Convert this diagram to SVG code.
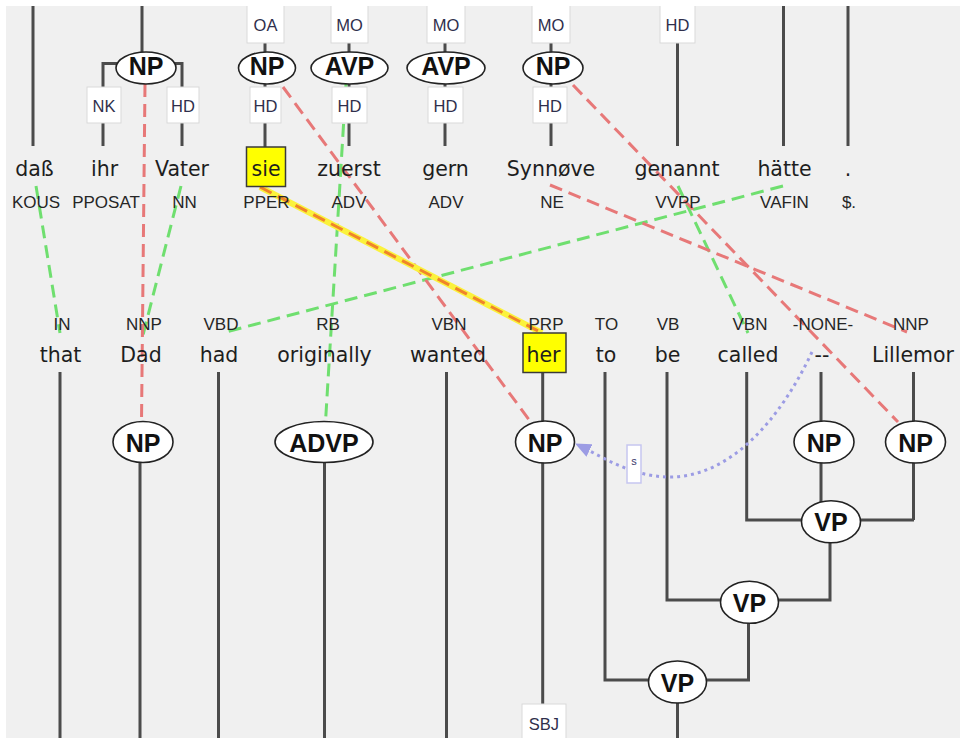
<svg xmlns="http://www.w3.org/2000/svg" width="960" height="738" viewBox="0 0 960 738">
  <style>
    .tree { stroke: #4b4b4b; stroke-width: 3; fill: none; }
    .node ellipse { fill: #ffffff; stroke: #222222; stroke-width: 1.6; }
    .node text { font-family: "Liberation Sans", Arial, sans-serif; font-weight: bold; font-size: 25px; fill: #111111; text-anchor: middle; }
    .lbl rect { fill: #ffffff; stroke: #d9d9d9; stroke-width: 1; }
    .lbl text { font-family: "Liberation Sans", Arial, sans-serif; font-size: 16.5px; fill: #2f2f4c; text-anchor: middle; }
    .word text { font-family: "DejaVu Sans", Verdana, sans-serif; font-size: 20.5px; fill: #1e1e1e; text-anchor: middle; }
    .word .pos { font-family: "Liberation Sans", Arial, sans-serif; font-size: 17px; fill: #262626; }
    .hl { fill: #ffff00; stroke: #3a3a3a; stroke-width: 1.5; }
    .al { fill: none; stroke-width: 3; stroke-dasharray: 13 7; }
    .red { stroke: #e77878; }
    .green { stroke: #6fdf6f; }
    .sel-under { fill: none; stroke: #fbf23c; stroke-width: 6; }
    .sel-over { fill: none; stroke: #f0842a; stroke-width: 3; stroke-dasharray: 13 7; }
    .coref { fill: none; stroke: #9c9ce4; stroke-width: 3; stroke-dasharray: 3 4; }
  </style>
  <defs>
    <marker id="corefHead" markerUnits="userSpaceOnUse" markerWidth="16" markerHeight="14" refX="15" refY="7" orient="auto">
      <path d="M0,0 L16,7 L0,14 Z" fill="#9c9ce4"/>
    </marker>
  </defs>

  <!-- canvas -->
  <rect x="0" y="0" width="960" height="738" fill="#f0f0f0"/>

  <!-- tree edges -->
  <g id="connectors">
    <!-- German tree (top) -->
    <path class="tree" d="M33,0 V146"/>
    <path class="tree" d="M142,0 V52"/>
    <path class="tree" d="M118,63.5 H103 V146"/>
    <path class="tree" d="M174,63.5 H182 V146"/>
    <path class="tree" d="M265,40 V147"/>
    <path class="tree" d="M349,40 V146"/>
    <path class="tree" d="M445,40 V146"/>
    <path class="tree" d="M551,40 V146"/>
    <path class="tree" d="M677.5,0 V146"/>
    <path class="tree" d="M783.5,0 V146"/>
    <path class="tree" d="M848,0 V146"/>

    <!-- English tree (bottom) -->
    <path class="tree" d="M60,372 V738"/>
    <path class="tree" d="M140,460 V738"/>
    <path class="tree" d="M218.5,372 V738"/>
    <path class="tree" d="M324.5,460 V738"/>
    <path class="tree" d="M446.5,372 V738"/>
    <path class="tree" d="M542.7,372 V705"/>
    <path class="tree" d="M746.7,372 V520 H914"/>
    <path class="tree" d="M821,372 V521"/>
    <path class="tree" d="M913.5,372 V520"/>
    <path class="tree" d="M830,521 V600 H667 V372"/>
    <path class="tree" d="M748.5,602 V680 H605 V372"/>
    <path class="tree" d="M677.5,682 V738"/>

    <!-- word alignment -->
    <path class="al green" d="M36,186 L60,333"/>
    <path class="al green" d="M181,186 L143,335"/>
    <path class="al green" d="M346,84 L325.5,422"/>
    <path class="al green" d="M783,186 L222,333"/>
    <path class="al green" d="M678,186 L748,333"/>
    <path class="al red" d="M145,84 L141.5,422"/>
    <path class="al red" d="M283,87 L530,421"/>
    <path class="al red" d="M573,85 L898,422"/>
    <path class="al red" d="M550,185 L907,332"/>
    <path class="sel-under" d="M260,187 L542,333"/>
    <path class="sel-over" d="M260,187 L542,333"/>

    <!-- trace coindexation -->
    <path class="coref" d="M812,352 C780,420 730,478 668,477 C630,476 605,458 576,444" marker-end="url(#corefHead)"/>
  </g>

  <!-- German words -->
  <g id="w-dass" class="word"><text x="34.5" y="176">daß</text><text class="pos" x="36" y="208">KOUS</text></g>
  <g id="w-ihr" class="word"><text x="104.5" y="176">ihr</text><text class="pos" x="106" y="208">PPOSAT</text></g>
  <g id="w-vater" class="word"><text x="182" y="176">Vater</text><text class="pos" x="184.5" y="208">NN</text></g>
  <g id="w-sie" class="word"><rect class="hl" x="246.5" y="147" width="39" height="39.5"/><text x="266" y="176">sie</text><text class="pos" x="266.5" y="208">PPER</text></g>
  <g id="w-zuerst" class="word"><text x="349" y="176">zuerst</text><text class="pos" x="349" y="208">ADV</text></g>
  <g id="w-gern" class="word"><text x="445.5" y="176">gern</text><text class="pos" x="446" y="208">ADV</text></g>
  <g id="w-synnove" class="word"><text x="551" y="176">Synnøve</text><text class="pos" x="552" y="208">NE</text></g>
  <g id="w-genannt" class="word"><text x="677" y="176">genannt</text><text class="pos" x="678" y="208">VVPP</text></g>
  <g id="w-haette" class="word"><text x="784.5" y="176">hätte</text><text class="pos" x="784.5" y="208">VAFIN</text></g>
  <g id="w-punct" class="word"><text x="848" y="176">.</text><text class="pos" x="849" y="208">$.</text></g>

  <!-- English words -->
  <g id="e-that" class="word"><text class="pos" x="62" y="330">IN</text><text x="60.5" y="362">that</text></g>
  <g id="e-dad" class="word"><text class="pos" x="144" y="330">NNP</text><text x="141" y="362">Dad</text></g>
  <g id="e-had" class="word"><text class="pos" x="221" y="330">VBD</text><text x="219" y="362">had</text></g>
  <g id="e-originally" class="word"><text class="pos" x="328" y="330">RB</text><text x="324.5" y="362">originally</text></g>
  <g id="e-wanted" class="word"><text class="pos" x="449" y="330">VBN</text><text x="448" y="362">wanted</text></g>
  <g id="e-her" class="word"><rect class="hl" x="523" y="333" width="43" height="39.5"/><text class="pos" x="546" y="330">PRP</text><text x="543.5" y="362">her</text></g>
  <g id="e-to" class="word"><text class="pos" x="606.5" y="330">TO</text><text x="606" y="362">to</text></g>
  <g id="e-be" class="word"><text class="pos" x="668" y="330">VB</text><text x="667.5" y="362">be</text></g>
  <g id="e-called" class="word"><text class="pos" x="750" y="330">VBN</text><text x="748" y="362">called</text></g>
  <g id="e-trace" class="word"><text class="pos" x="823" y="330">-NONE-</text><text x="822" y="362">--</text></g>
  <g id="e-lillemor" class="word"><text class="pos" x="911" y="330">NNP</text><text x="913" y="362">Lillemor</text></g>

  <!-- German phrase nodes and edge labels -->
  <g id="g-np1" class="node"><ellipse cx="146" cy="68" rx="30" ry="16"/><text x="146" y="75">NP</text></g>
  <g id="g-np1-nk" class="lbl"><rect x="87" y="87" width="34" height="36"/><text x="104" y="112">NK</text></g>
  <g id="g-np1-hd" class="lbl"><rect x="167" y="87" width="32" height="36"/><text x="183" y="112">HD</text></g>

  <g id="g-np2-oa" class="lbl"><rect x="247" y="3" width="37" height="40"/><text x="265.5" y="31">OA</text></g>
  <g id="g-np2" class="node"><ellipse cx="267" cy="68" rx="28.5" ry="16"/><text x="267" y="75">NP</text></g>
  <g id="g-np2-hd" class="lbl"><rect x="250" y="87" width="31" height="36"/><text x="265.5" y="112">HD</text></g>

  <g id="g-avp1-mo" class="lbl"><rect x="331" y="3" width="37" height="40"/><text x="349.5" y="31">MO</text></g>
  <g id="g-avp1" class="node"><ellipse cx="349.5" cy="68" rx="38.5" ry="16"/><text x="349.5" y="75">AVP</text></g>
  <g id="g-avp1-hd" class="lbl"><rect x="332" y="87" width="35" height="36"/><text x="349.5" y="112">HD</text></g>

  <g id="g-avp2-mo" class="lbl"><rect x="427" y="3" width="38" height="40"/><text x="446" y="31">MO</text></g>
  <g id="g-avp2" class="node"><ellipse cx="446" cy="68" rx="39" ry="16"/><text x="446" y="75">AVP</text></g>
  <g id="g-avp2-hd" class="lbl"><rect x="428" y="87" width="35" height="36"/><text x="445.5" y="112">HD</text></g>

  <g id="g-np3-mo" class="lbl"><rect x="532" y="3" width="38" height="40"/><text x="551" y="31">MO</text></g>
  <g id="g-np3" class="node"><ellipse cx="553" cy="68" rx="30" ry="16"/><text x="553" y="75">NP</text></g>
  <g id="g-np3-hd" class="lbl"><rect x="533" y="87" width="34" height="36"/><text x="550" y="112">HD</text></g>

  <g id="g-vvpp-hd" class="lbl"><rect x="660" y="3" width="35" height="40"/><text x="677.5" y="31">HD</text></g>

  <!-- English phrase nodes -->
  <g id="e-np-dad" class="node"><ellipse cx="143" cy="442" rx="30" ry="20.5"/><text x="143" y="451.5">NP</text></g>
  <g id="e-advp" class="node"><ellipse cx="324" cy="442" rx="49" ry="20.5"/><text x="324" y="451.5">ADVP</text></g>
  <g id="e-np-her" class="node"><ellipse cx="545" cy="442" rx="29.5" ry="21"/><text x="545" y="451.5">NP</text></g>
  <g id="e-np-trace" class="node"><ellipse cx="824" cy="442" rx="30" ry="21"/><text x="824" y="451.5">NP</text></g>
  <g id="e-np-lillemor" class="node"><ellipse cx="915.5" cy="442" rx="30" ry="21"/><text x="915.5" y="451.5">NP</text></g>
  <g id="e-vp1" class="node"><ellipse cx="831" cy="521.7" rx="29.5" ry="21"/><text x="831" y="531">VP</text></g>
  <g id="e-vp2" class="node"><ellipse cx="749.5" cy="602.3" rx="29" ry="21"/><text x="749.5" y="611.5">VP</text></g>
  <g id="e-vp3" class="node"><ellipse cx="677.5" cy="682" rx="29" ry="21"/><text x="677.5" y="691.5">VP</text></g>
  <g id="e-sbj" class="lbl"><rect x="522" y="704" width="44" height="40"/><text x="544" y="730">SBJ</text></g>

  <!-- trace index tag -->
  <g id="coref-tag">
    <rect x="627" y="445" width="14" height="38" fill="#ffffff" stroke="#c6c6f0" stroke-width="1.5"/>
    <text x="634" y="465" font-family="Liberation Sans, Arial, sans-serif" font-size="11px" fill="#3a3a6a" text-anchor="middle">s</text>
  </g>

  <!-- outer margin -->
  <rect x="0" y="0" width="960" height="6" fill="#ffffff"/>
  <rect x="0" y="0" width="6" height="738" fill="#ffffff"/>
</svg>
